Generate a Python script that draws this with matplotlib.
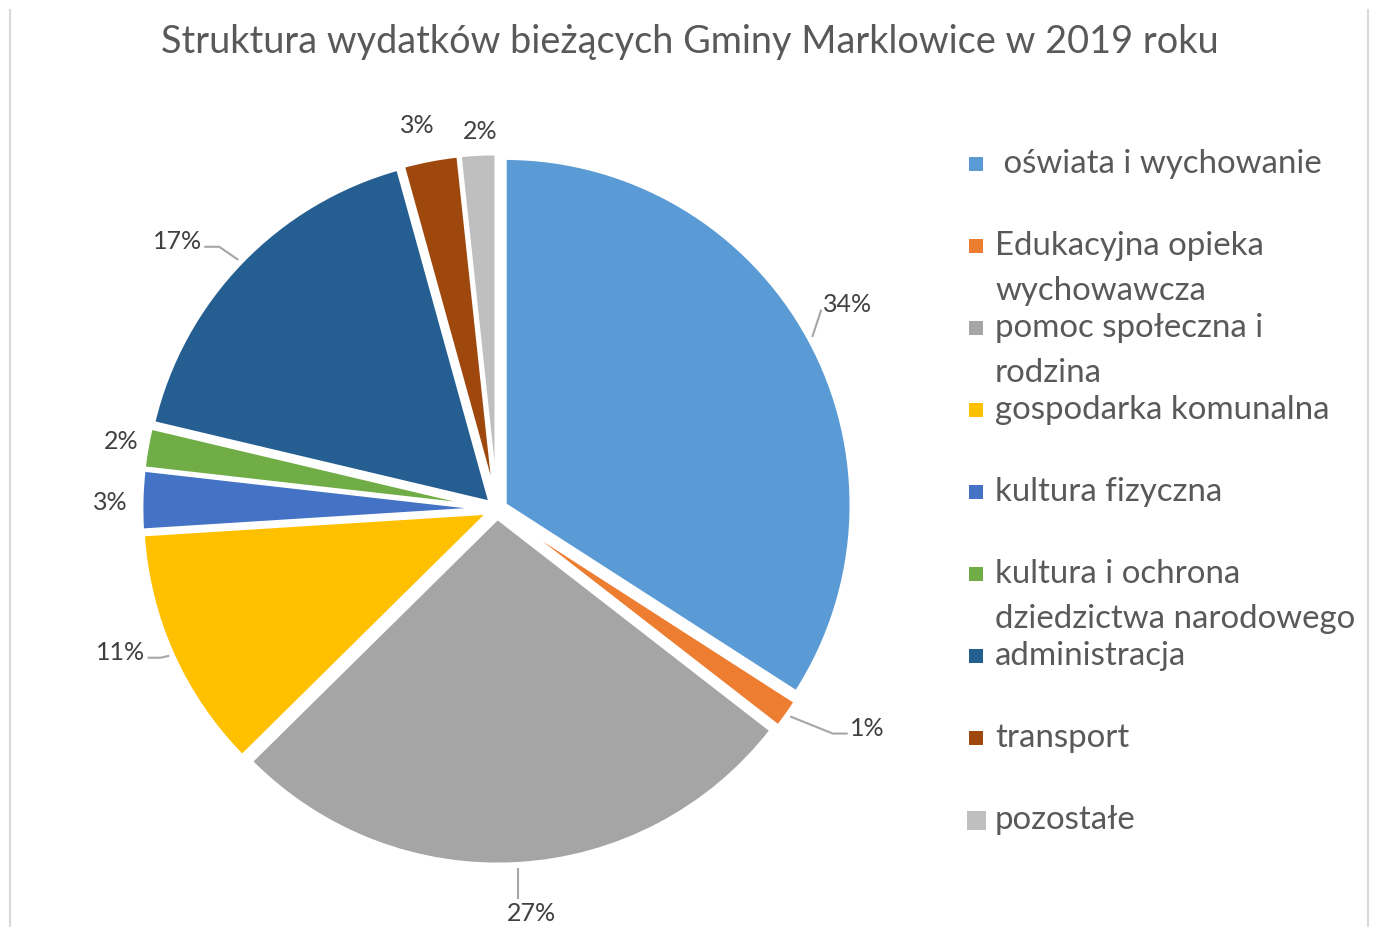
import numpy as np
import matplotlib.pyplot as plt
from matplotlib.lines import Line2D
from matplotlib.patches import Rectangle

# Data (shares of current expenditure, %)
categories = [
    " oświata i wychowanie",
    "Edukacyjna opieka\nwychowawcza",
    "pomoc społeczna i\nrodzina",
    "gospodarka komunalna",
    "kultura fizyczna",
    "kultura i ochrona\ndziedzictwa narodowego",
    "administracja",
    "transport",
    "pozostałe",
]
shares = [34.1, 1.4, 27.1, 11.4, 2.8, 1.9, 17.0, 2.6, 1.7]
colors = ["#5B9BD5", "#ED7D31", "#A5A5A5", "#FFC000", "#4472C4",
          "#70AD47", "#255E91", "#9E480E", "#BFBFBF"]
title = "Struktura wydatków bieżących Gminy Marklowice w 2019 roku"

plt.rcParams['font.family'] = ['Lato', 'DejaVu Sans']
txt_color = "#595959"

W, H = 1373, 927
fig = plt.figure(figsize=(W / 100, H / 100), dpi=100)

# axes covering whole figure, 1 data unit = u pixels, pie centre at (cx, cy)
u = 347.0
cx, cy = 497.0, H - 509.0
ax = fig.add_axes([0, 0, 1, 1])

explode = [0.025] * len(shares)
wedges, _ = ax.pie(shares, colors=colors, startangle=90, counterclock=False,
                   explode=explode, radius=1.0, frame=True,
                   wedgeprops=dict(edgecolor="white", linewidth=3))
ax.set_xlim(-cx / u, (W - cx) / u)
ax.set_ylim(-cy / u, (H - cy) / u)
ax.set_aspect("auto")
ax.axis("off")

# percentage labels (radius, small angle shift, leader elbow length in px)
label_r = [1.17, 1.24, 1.17, 1.16, 1.115, 1.10, 1.20, 1.13, 1.09]
label_da = [1.6, 4.6, 1.5, -3.2, 0.5, -0.3, 4.0, 0.9, -0.5]
elbow = [0, 15, None, 13, None, None, 15, None, None]
leader = [True, True, True, True, False, False, True, False, False]

texts = []
for w, s, r, da in zip(wedges, shares, label_r, label_da):
    mid = (w.theta1 + w.theta2) / 2
    ang = np.deg2rad(mid + da)
    t = ax.text(r * np.cos(ang), r * np.sin(ang), f"{round(s):d}%",
                ha="center", va="center", fontsize=18, color="#404040")
    texts.append((t, mid))

fig.canvas.draw()
rend = fig.canvas.get_renderer()
to_data = ax.transData.inverted()
for (t, mid), ld, el in zip(texts, leader, elbow):
    if not ld:
        continue
    bb = t.get_window_extent(rend)
    am = np.deg2rad(mid)
    ax_, ay_ = ax.transData.transform((1.035 * np.cos(am), 1.035 * np.sin(am)))
    if abs(np.cos(am)) < 0.2:
        # near vertical leader, from top of text to slice
        pts = [(ax_, bb.y1 + 3), (ax_, ay_)]
    else:
        yline = (bb.y0 + bb.y1) / 2 - 5
        if np.cos(am) > 0:
            x0 = bb.x0 - 2
            pts = [(x0, yline), (x0 - el, yline), (ax_, ay_)]
        else:
            x0 = bb.x1 + 2
            pts = [(x0, yline), (x0 + el, yline), (ax_, ay_)]
    d = to_data.transform(pts)
    ax.plot(d[:, 0], d[:, 1], color="#A6A6A6", lw=1.5, solid_capstyle="butt")

# title
fig.text(690 / W, 1 - 42 / H, title, ha="center", va="center",
         fontsize=27.3, color=txt_color)

# legend drawn manually
marker_px = [14] * 8 + [19]
for i, (lab, c, m) in enumerate(zip(categories, colors, marker_px)):
    yc = 164 + 82 * i
    fig.add_artist(Rectangle(((976 - m / 2) / W, 1 - (yc + m / 2) / H), m / W, m / H,
                             transform=fig.transFigure, facecolor=c, edgecolor="none"))
    lines = lab.split("\n")
    for j, ln in enumerate(lines):
        fig.text(995 / W, 1 - (yc + 45 * j) / H, ln, ha="left", va="center",
                 fontsize=23.8, color=txt_color)

# chart border lines
for x in (10, 1368):
    fig.add_artist(Line2D([x / W, x / W], [0, 1 - 10 / H], transform=fig.transFigure,
                          color="#D9D9D9", lw=1.5))

fig.savefig("out.png", dpi=100, facecolor="white")
